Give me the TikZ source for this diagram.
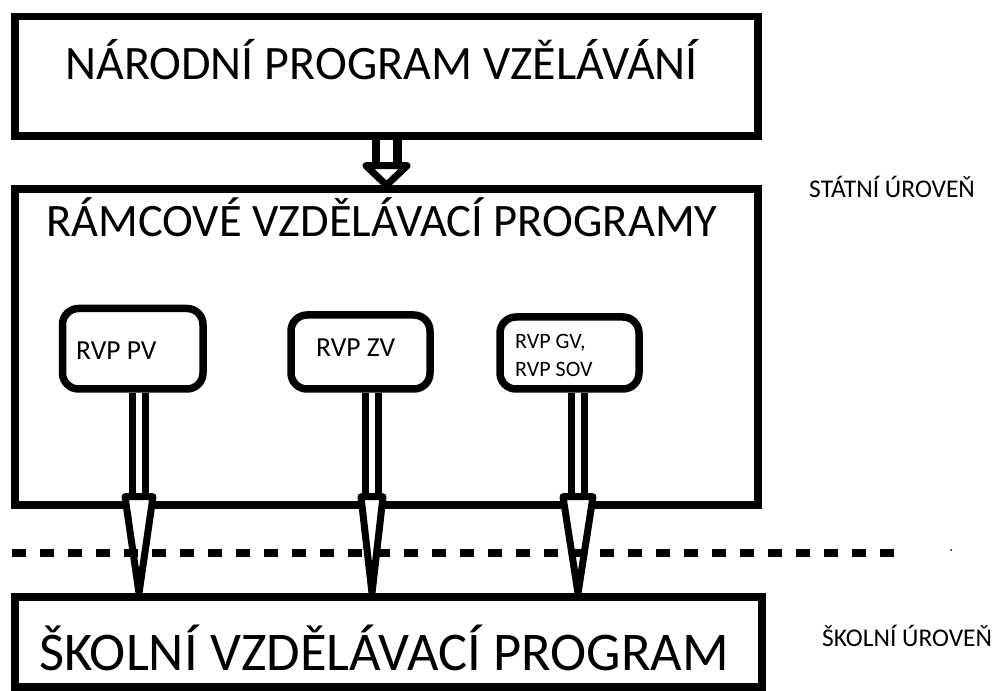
\documentclass[tikz,border=0pt]{standalone}
\usepackage{fontspec}
\setmainfont{Carlito}

\tikzset{
  bigbox/.style={draw, line width=7.5pt, inner sep=0pt},
  rvpbox/.style={draw, line width=7.5pt, rounded corners=16pt, inner sep=0pt},
  bigtext/.style={anchor=base west, inner sep=0pt, font=\fontsize{46.5}{46.5}\selectfont},
  rvptext/.style={anchor=base west, inner sep=0pt, font=\fontsize{27.5}{27.5}\selectfont},
  leveltext/.style={anchor=base west, inner sep=0pt, font=\fontsize{25.5}{25.5}\selectfont},
  arrshaft/.style={double, double distance=6pt, line width=7pt},
  arrhead/.style={draw, fill=white, line width=7pt, line join=round},
  levelline/.style={line width=8pt, dash pattern=on 14pt off 14pt},
}

\begin{document}
\begin{tikzpicture}[x=1pt,y=1pt]
\useasboundingbox (0,0) rectangle (994,691);

% three levels of programmes
\node[bigbox, minimum width=743pt, minimum height=119.5pt] (nrp) at (386.5,614.75) {};
\node[bigbox, minimum width=743pt, minimum height=316pt] (rvp) at (386.5,344) {};
\node[bigbox, minimum width=747pt, minimum height=90pt] (svp) at (388.5,49) {};

\node[bigtext, font=\fontsize{48}{48}\selectfont] (nrptext) at (65,611) {NÁRODNÍ PROGRAM VZĚLÁVÁNÍ};
\node[bigtext] (rvptext) at (46,454) {RÁMCOVÉ VZDĚLÁVACÍ PROGRAMY};
\node[bigtext, font=\fontsize{54.5}{54.5}\selectfont] (svptext) at (39,20) {ŠKOLNÍ VZDĚLÁVACÍ PROGRAM};

% the single RVP boxes
\node[rvpbox, minimum width=140.5pt, minimum height=80.5pt] (pv) at (132.75,342.25) {};
\node[rvpbox, minimum width=139pt, minimum height=74pt] (zv) at (360.5,339) {};
\node[rvpbox, minimum width=139pt, minimum height=72pt] (gv) at (569.5,338) {};

\node[rvptext] (pvtext) at (76,331) {RVP PV};
\node[rvptext] (zvtext) at (316,334) {RVP ZV};
\node[anchor=west, inner sep=0pt, align=left, font=\fontsize{22}{28}\selectfont] (gvtext) at (515,336) {RVP GV,\\RVP SOV};

% arrows
\coordinate (toptip) at (nrp.south |- rvp.north);
\draw[arrshaft, double distance=13pt, line width=8.5pt] (nrp.south) -- ([yshift=19.5pt]toptip);
\draw[arrhead] ([shift={(-20.5,19.5)}]toptip) -- (toptip) -- ([shift={(20.5,19.5)}]toptip) -- cycle;

\coordinate (pvtip) at (139,0 |- svp.north);
\coordinate (zvtip) at (372,0 |- svp.north);
\coordinate (gvtip) at (578,0 |- svp.north);

\draw[arrshaft] (pvtip |- pv.south) -- ([yshift=96.5pt]pvtip);
\draw[arrhead] ([shift={(-14,96.5)}]pvtip) -- (pvtip) -- ([shift={(14,96.5)}]pvtip) -- cycle;

\draw[arrshaft] (zvtip |- zv.south) -- ([yshift=96.5pt]zvtip);
\draw[arrhead] ([shift={(-11,96.5)}]zvtip) -- (zvtip) -- ([shift={(11,96.5)}]zvtip) -- cycle;

\draw[arrshaft] (gvtip |- gv.south) -- ([yshift=96.5pt]gvtip);
\draw[arrhead] ([shift={(-15,96.5)}]gvtip) -- (gvtip) -- ([shift={(15,96.5)}]gvtip) -- cycle;

% border between the two levels
\draw[levelline] (12,138) -- (900,138);
\fill (951,141) circle (1pt);

\node[leveltext] (statni) at (809,493) {STÁTNÍ ÚROVEŇ};
\node[leveltext] (skolni) at (822,44) {ŠKOLNÍ ÚROVEŇ};
\end{tikzpicture}
\end{document}
